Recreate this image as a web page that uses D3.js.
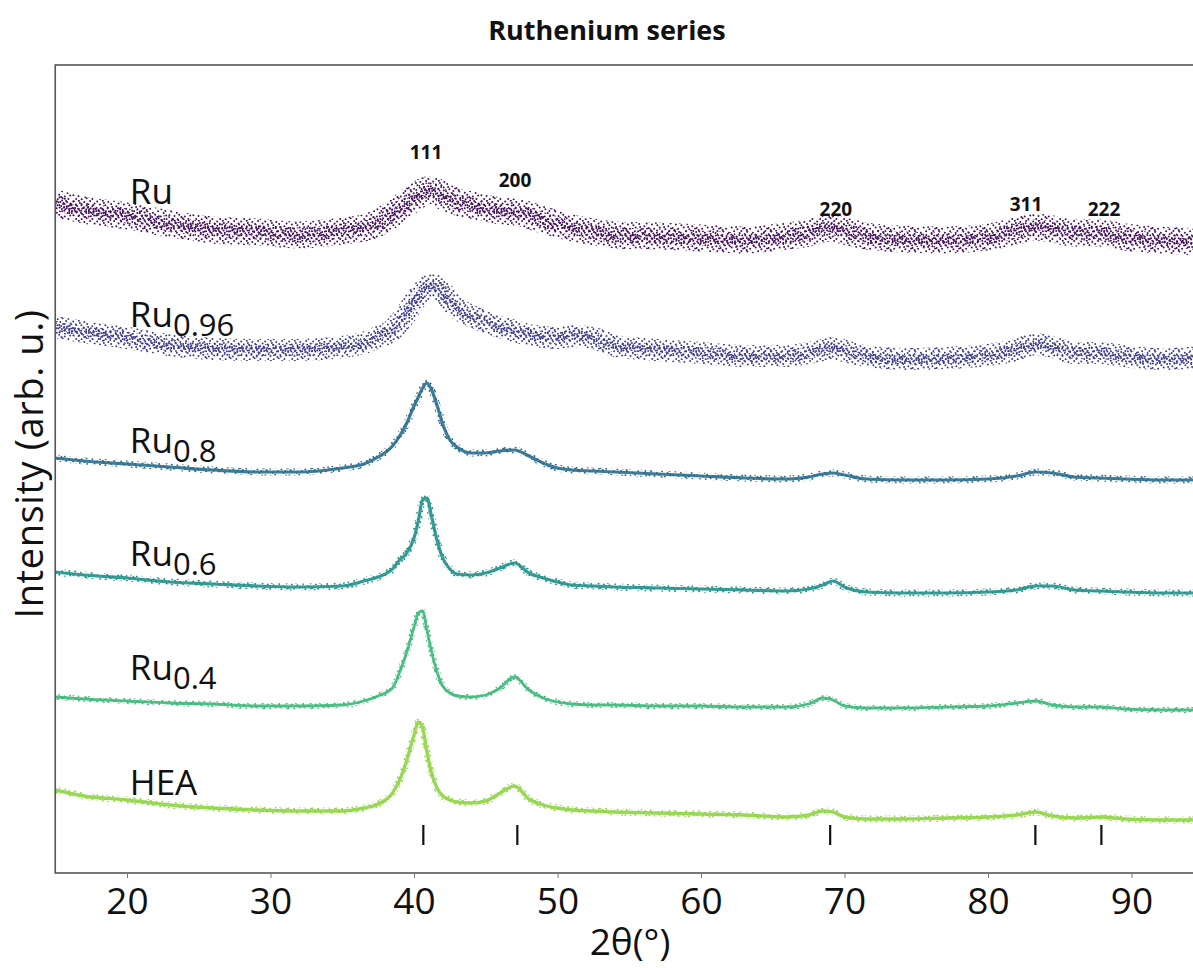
<!DOCTYPE html>
<html>
<head>
<meta charset="utf-8">
<script src="https://cdn.jsdelivr.net/npm/d3@7"></script>
<style>
  body { margin: 0; background: #fff; }
  svg { display: block; font-family: "Open Sans", sans-serif; }
</style>
</head>
<body>
<svg width="1193" height="968"></svg>
<script>
const svg = d3.select("svg");

// 2theta grid (deg) shared by every pattern
const theta = [15, 17, 20, 23, 26, 29, 32, 35, 36.5, 37.5, 38.5, 39, 39.5, 40,
  40.3, 40.6, 40.9, 41.2, 41.6, 42, 42.5, 43, 44, 45, 46, 47,
  48, 49, 50, 51, 52.5, 54, 57, 60, 63, 66, 67.5, 68.5,
  69.2, 70, 71.5, 74, 77, 80, 82, 83.3, 84.5, 86, 87.8, 89.5, 92, 95.1];

// stacked intensities (arb. u.)
const ruI = [670, 663, 657, 649, 643, 641, 638, 642, 645, 650, 659, 664, 670, 675,
  678, 681, 683, 683, 681, 677, 674, 671, 668, 665, 662, 661,
  658, 653, 649, 645, 641, 638, 637, 635, 633, 637, 640, 644,
  645, 642, 637, 634, 633, 636, 642, 646, 644, 640, 640, 636, 633, 631];
const ru096I = [546, 541, 535, 528, 524, 523, 523, 526, 530, 536, 543, 551, 560, 571,
  577, 582, 586, 588, 587, 581, 572, 565, 557, 551, 546, 542,
  538, 536, 535, 537, 535, 527, 523, 520, 517, 517, 520, 523,
  525, 522, 517, 514, 515, 518, 523, 529, 526, 520, 520, 517, 514, 516];
const ru08I = [415, 412, 409, 406, 403, 401, 401, 405, 409, 416, 427, 437, 450, 467,
  476, 485, 490, 484, 468, 449, 433, 426, 420, 420, 422, 423,
  417, 410, 405, 403, 402, 401, 399, 397, 395, 394, 396, 399,
  400, 398, 394, 393, 393, 394, 397, 401, 400, 396, 395, 394, 393, 393];
const ru06I = [301, 298, 295, 291, 289, 287, 286, 287, 292, 296, 304, 313, 320, 335,
  352, 373, 375, 358, 333, 315, 304, 299, 298, 300, 305, 310,
  300, 295, 291, 288, 287, 286, 285, 284, 283, 282, 284, 288,
  292, 286, 281, 280, 280, 281, 283, 287, 287, 283, 282, 281, 280, 280];
const ru04I = [176, 174, 172, 170, 169, 167, 167, 168, 172, 177, 185, 201, 221, 246,
  260, 262, 243, 223, 201, 187, 180, 177, 176, 178, 185, 196,
  183, 175, 171, 169, 168, 168, 167, 167, 166, 166, 169, 175,
  173, 167, 165, 165, 166, 167, 170, 172, 168, 166, 166, 164, 163, 163];
const heaI = [83, 77, 73, 68, 65, 63, 62, 62, 65, 69, 80, 93, 113, 138,
  151, 145, 121, 101, 85, 77, 73, 71, 70, 72, 80, 87,
  74, 68, 65, 63, 62, 61, 60, 59, 58, 56, 58, 62,
  61, 56, 54, 54, 55, 56, 58, 61, 57, 55, 56, 54, 53, 53];

const seriesBase = ["Ru", "Ru", "Ru", "Ru", "Ru", "HEA"];
const seriesSub = ["", "0.96", "0.8", "0.6", "0.4", ""];
const seriesValues = [ruI, ru096I, ru08I, ru06I, ru04I, heaI];
const labelLevel = [669, 546, 420, 307, 193, 78];
const labelTheta = 20.2;

// reflection labels and reference peak positions
const hklText = ["111", "200", "220", "311", "222"];
const hklTheta = [40.84, 47.04, 69.4, 82.65, 88.08];
const hklLevel = [714, 686, 657, 662, 657];
const refPeaks = [40.65, 47.2, 69.0, 83.3, 87.9];
const refLow = 28, refHigh = 48;

const xTicks = [20, 30, 40, 50, 60, 70, 80, 90];

// styles
const colors = ["#43105a", "#3f3c88", "#2b6d8d", "#21918b", "#3bb878", "#8fd544"];
const bandWidth = [27, 22, 7, 7, 6, 7];
const midWidth = [15, 12, 0, 0, 0, 0];
const coreWidth = [7, 6, 3.2, 3.2, 2.8, 3.4];
// dot texture tiles (not data, only a fill texture for the scattered-point look)
const tileA = { w: 24, h: 20, dots: [[1.2, 1.5], [6.8, 0.7], [12.3, 2.1], [18.1, 1.1], [22.6, 3.4],
  [3.9, 4.6], [9.4, 5.2], [15.2, 4.0], [20.3, 6.3], [0.6, 7.9], [6.1, 8.8], [11.7, 7.4],
  [17.4, 9.2], [23.1, 8.5], [3.3, 11.6], [8.8, 12.7], [14.1, 11.3], [19.6, 12.9],
  [1.4, 15.2], [6.5, 16.1], [11.2, 14.8], [16.8, 16.4], [22.2, 15.5], [4.2, 18.9],
  [9.7, 19.3], [14.6, 18.2], [20.4, 19.0], [2.6, 10.1], [13.4, 16.9], [21.4, 11.0],
  [7.9, 3.1], [16.1, 7.0]] };
const tileB = { w: 17, h: 15, dots: [[0.8, 1.1], [5.6, 0.4], [10.9, 1.8], [15.3, 0.9],
  [2.9, 4.2], [8.1, 3.6], [13.2, 5.1], [0.4, 7.3], [5.3, 8.0], [10.6, 7.1], [15.8, 8.6],
  [2.7, 11.2], [7.9, 12.0], [12.8, 10.9], [0.9, 14.3], [5.8, 14.6], [10.3, 13.8], [15.1, 12.6]] };

const x = d3.scaleLinear().domain([15, 95.1]).range([55.25, 1204.7]);
const y = d3.scaleLinear().domain([0, 808]).range([873, 65]);

const defs = svg.append("defs");
defs.append("clipPath").attr("id", "plotClip")
  .append("rect")
  .attr("x", x(15)).attr("y", y(808))
  .attr("width", x(95.1) - x(15)).attr("height", y(0) - y(808));

function addPattern(id, tile, color, shift) {
  const p = defs.append("pattern")
    .attr("id", id)
    .attr("patternUnits", "userSpaceOnUse")
    .attr("width", tile.w).attr("height", tile.h)
    .attr("patternTransform", shift);
  p.selectAll("circle")
    .data(tile.dots)
    .enter()
    .append("circle")
    .attr("cx", d => d[0]).attr("cy", d => d[1])
    .attr("r", 1.0)
    .attr("fill", color);
}

colors.forEach((c, i) => {
  addPattern(`dotsa${i}`, tileA, c, null);
  addPattern(`dotsb${i}`, tileB, c, "translate(3,2)");
  addPattern(`dotsc${i}`, tileA, c, "translate(9,7)");
});

// title
svg.append("text")
  .attr("x", 607).attr("y", 40)
  .attr("text-anchor", "middle")
  .style("font-size", "27px").style("font-weight", "bold")
  .attr("fill", "#111")
  .text("Ruthenium series");

// curves
const line = d3.line()
  .x((d, i) => x(theta[i]))
  .y(d => y(d))
  .curve(d3.curveMonotoneX);

const plot = svg.append("g").attr("clip-path", "url(#plotClip)");

seriesValues.forEach((vals, i) => {
  const g = plot.append("g");
  const noisy = midWidth[i] > 0;
  g.append("path")
    .attr("d", line(vals))
    .attr("fill", "none")
    .attr("stroke", `url(#dotsa${i})`)
    .attr("stroke-width", bandWidth[i]);
  if (noisy) {
    g.append("path")
      .attr("d", line(vals))
      .attr("fill", "none")
      .attr("stroke", `url(#dotsb${i})`)
      .attr("stroke-width", midWidth[i]);
  }
  g.append("path")
    .attr("d", line(vals))
    .attr("fill", "none")
    .attr("stroke", noisy ? `url(#dotsc${i})` : colors[i])
    .attr("stroke-width", coreWidth[i])
    .attr("opacity", noisy ? 1 : 0.9);
});

// series labels
seriesBase.forEach((b, i) => {
  const t = svg.append("text")
    .attr("x", x(labelTheta)).attr("y", y(labelLevel[i]))
    .style("font-size", "35px")
    .attr("fill", "#111")
    .text(b);
  if (seriesSub[i]) {
    t.append("tspan")
      .attr("dy", 9)
      .style("font-size", "31px")
      .text(seriesSub[i]);
  }
});

// hkl labels
svg.selectAll(".hkl")
  .data(hklText)
  .enter()
  .append("text")
  .attr("class", "hkl")
  .attr("x", (d, i) => x(hklTheta[i]))
  .attr("y", (d, i) => y(hklLevel[i]))
  .attr("text-anchor", "middle")
  .style("font-size", "19px").style("font-weight", "bold")
  .attr("fill", "#111")
  .text(d => d);

// reference ticks
svg.selectAll(".ref")
  .data(refPeaks)
  .enter()
  .append("line")
  .attr("class", "ref")
  .attr("x1", d => x(d)).attr("x2", d => x(d))
  .attr("y1", y(refLow)).attr("y2", y(refHigh))
  .attr("stroke", "#111")
  .attr("stroke-width", 2.2);

// frame
svg.append("rect")
  .attr("x", x(15)).attr("y", y(808))
  .attr("width", x(95.1) - x(15)).attr("height", y(0) - y(808))
  .attr("fill", "none")
  .attr("stroke", "#555")
  .attr("stroke-width", 1.6);

// x axis
const xAxis = svg.append("g")
  .attr("transform", `translate(0,${y(0)})`)
  .call(d3.axisBottom(x).tickValues(xTicks).tickSize(5).tickSizeOuter(0).tickPadding(10));
xAxis.select(".domain").remove();
xAxis.selectAll(".tick line").attr("stroke", "#777");
xAxis.selectAll(".tick text")
  .style("font-family", "Open Sans")
  .style("font-size", "37px")
  .attr("fill", "#111");

svg.append("text")
  .attr("x", (x(15) + x(95.1)) / 2).attr("y", 955)
  .attr("text-anchor", "middle")
  .style("font-size", "37px")
  .attr("fill", "#111")
  .text("2θ(°)");

svg.append("text")
  .attr("transform", `translate(43,${(y(0) + y(808)) / 2 - 5}) rotate(-90)`)
  .attr("text-anchor", "middle")
  .style("font-size", "38px")
  .style("letter-spacing", "0.6px")
  .attr("fill", "#111")
  .text("Intensity (arb. u.)");
</script>
</body>
</html>
